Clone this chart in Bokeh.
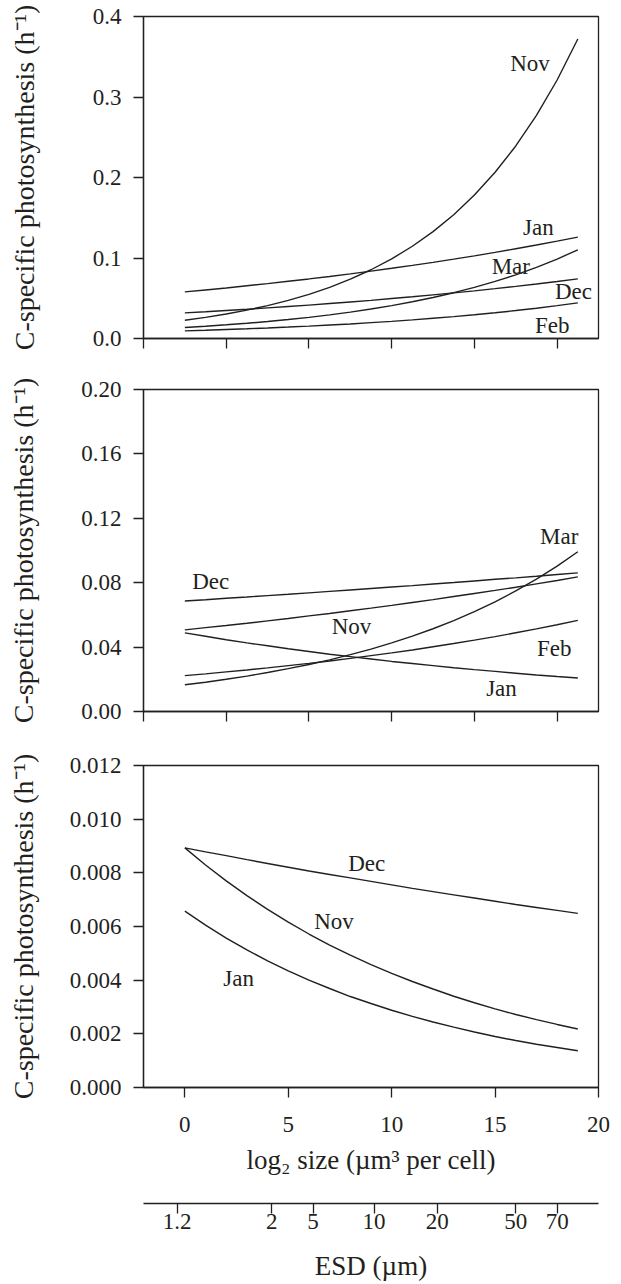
from bokeh.plotting import figure
from bokeh.models import Range1d, FixedTicker
from bokeh.layouts import column
from bokeh.embed import file_html
from bokeh.resources import INLINE
from bokeh.core.properties import value

# ---------------- data ----------------
log2_size = [0, 1, 2, 3, 4, 5, 6, 7, 8, 9, 10, 11, 12, 13, 14, 15, 16, 17, 18, 19]

# panel A
a_nov = [0.0227, 0.0263, 0.0305, 0.0353, 0.0409, 0.0474, 0.0549, 0.0636, 0.0737, 0.0854,
         0.0989, 0.1146, 0.1328, 0.1538, 0.1782, 0.2065, 0.2392, 0.2772, 0.3211, 0.3721]
a_jan = [0.0579, 0.0603, 0.0628, 0.0655, 0.0682, 0.0711, 0.0740, 0.0771, 0.0803, 0.0837,
         0.0872, 0.0908, 0.0946, 0.0986, 0.1027, 0.1070, 0.1115, 0.1161, 0.1210, 0.1260]
a_mar = [0.0136, 0.0152, 0.0170, 0.0189, 0.0211, 0.0236, 0.0263, 0.0294, 0.0328, 0.0366,
         0.0409, 0.0456, 0.0509, 0.0569, 0.0635, 0.0709, 0.0791, 0.0884, 0.0987, 0.1102]
a_dec = [0.0318, 0.0332, 0.0348, 0.0363, 0.0380, 0.0397, 0.0415, 0.0434, 0.0454, 0.0474,
         0.0496, 0.0518, 0.0542, 0.0567, 0.0592, 0.0619, 0.0647, 0.0677, 0.0708, 0.0740]
a_feb = [0.0095, 0.0103, 0.0112, 0.0121, 0.0131, 0.0142, 0.0154, 0.0167, 0.0181, 0.0197,
         0.0213, 0.0231, 0.0251, 0.0272, 0.0295, 0.0320, 0.0347, 0.0376, 0.0408, 0.0442]

# panel B
b_dec = [0.0686, 0.0694, 0.0703, 0.0711, 0.0720, 0.0728, 0.0737, 0.0746, 0.0755, 0.0764,
         0.0773, 0.0782, 0.0792, 0.0801, 0.0811, 0.0821, 0.0830, 0.0840, 0.0851, 0.0861]
b_nov = [0.0507, 0.0521, 0.0534, 0.0548, 0.0563, 0.0578, 0.0594, 0.0609, 0.0626, 0.0642,
         0.0659, 0.0677, 0.0695, 0.0714, 0.0733, 0.0752, 0.0772, 0.0793, 0.0814, 0.0836]
b_jan = [0.0488, 0.0467, 0.0446, 0.0426, 0.0408, 0.0390, 0.0373, 0.0356, 0.0341, 0.0326,
         0.0311, 0.0298, 0.0285, 0.0272, 0.0260, 0.0249, 0.0238, 0.0227, 0.0217, 0.0208]
b_feb = [0.0223, 0.0234, 0.0246, 0.0258, 0.0271, 0.0285, 0.0299, 0.0314, 0.0330, 0.0347,
         0.0364, 0.0382, 0.0402, 0.0422, 0.0443, 0.0465, 0.0489, 0.0513, 0.0539, 0.0566]
b_mar = [0.0166, 0.0182, 0.0200, 0.0220, 0.0242, 0.0266, 0.0292, 0.0321, 0.0353, 0.0387,
         0.0426, 0.0468, 0.0514, 0.0564, 0.0620, 0.0681, 0.0749, 0.0822, 0.0903, 0.0992]

# panel C
c_dec = [0.00893, 0.00878, 0.00864, 0.00849, 0.00835, 0.00821, 0.00807, 0.00794, 0.00781, 0.00768,
         0.00755, 0.00742, 0.00730, 0.00718, 0.00706, 0.00694, 0.00682, 0.00671, 0.00660, 0.00649]
c_nov = [0.00893, 0.00829, 0.00770, 0.00715, 0.00664, 0.00616, 0.00572, 0.00531, 0.00493, 0.00458,
         0.00425, 0.00395, 0.00367, 0.00340, 0.00316, 0.00293, 0.00272, 0.00253, 0.00235, 0.00218]
c_jan = [0.00657, 0.00605, 0.00557, 0.00513, 0.00472, 0.00435, 0.00400, 0.00369, 0.00339, 0.00313,
         0.00288, 0.00265, 0.00244, 0.00225, 0.00207, 0.00190, 0.00175, 0.00161, 0.00149, 0.00137]

# axes ticks / labels
a_yticks = [0.0, 0.1, 0.2, 0.3, 0.4]
a_ylabels = ["0.0", "0.1", "0.2", "0.3", "0.4"]
b_yticks = [0.0, 0.04, 0.08, 0.12, 0.16, 0.20]
b_ylabels = ["0.00", "0.04", "0.08", "0.12", "0.16", "0.20"]
c_yticks = [0.0, 0.002, 0.004, 0.006, 0.008, 0.010, 0.012]
c_ylabels = ["0.000", "0.002", "0.004", "0.006", "0.008", "0.010", "0.012"]
upper_xticks = [-2, 2, 6, 10, 14, 18]
lower_xticks = [0, 5, 10, 15, 20]
lower_xlabels = ["0", "5", "10", "15", "20"]
esd_tick_pos = [-0.38, 4.2, 6.2, 9.15, 12.2, 16.0, 18.0]
esd_labels = ["1.2", "2", "5", "10", "20", "50", "70"]

# month label annotations (centres)
a_lab = ["Nov", "Jan", "Mar", "Dec", "Feb"]
a_lab_x = [16.69, 17.09, 15.76, 18.79, 17.76]
a_lab_y = [0.3420, 0.1373, 0.0890, 0.0580, 0.0165]
b_lab = ["Mar", "Dec", "Nov", "Feb", "Jan"]
b_lab_x = [18.1, 1.25, 8.06, 17.86, 15.31]
b_lab_y = [0.1088, 0.0805, 0.0525, 0.0390, 0.0140]
c_lab = ["Dec", "Nov", "Jan"]
c_lab_x = [8.79, 7.21, 2.60]
c_lab_y = [0.00836, 0.00619, 0.00406]

# ---------------- styling ----------------
INK = "#231F20"
FONT = "Liberation Serif"
TICK_PX = "23px"
LABEL_PX = "27px"
YLABEL_PX = "28px"
YLABEL = "C-specific photosynthesis (h\u207b\u00b9)"

x_range = Range1d(-2, 20)


def style_axis(ax):
    ax.axis_line_color = INK
    ax.axis_line_width = 1.3
    ax.major_tick_line_color = INK
    ax.major_tick_line_width = 1.3
    ax.major_tick_in = 0
    ax.major_tick_out = 10
    ax.minor_tick_line_color = None
    ax.major_label_text_font = FONT
    ax.major_label_text_font_size = TICK_PX
    ax.major_label_text_color = INK
    ax.axis_label_text_font = FONT
    ax.axis_label_text_font_size = LABEL_PX
    ax.axis_label_text_font_style = "normal"
    ax.axis_label_text_color = INK


def make_panel(yr, yticks, ylabels, xticks, xlabels, ylab_standoff, top, bottom):
    p = figure(frame_width=455, frame_height=322, x_range=x_range, y_range=Range1d(*yr),
               output_backend="svg", toolbar_location=None,
               min_border_left=143, min_border_right=14,
               min_border_top=top, min_border_bottom=bottom,
               outline_line_color=INK, outline_line_width=1.3,
               background_fill_color="white", border_fill_color="white")
    p.grid.visible = False
    style_axis(p.xaxis[0])
    style_axis(p.yaxis[0])
    p.yaxis.ticker = FixedTicker(ticks=yticks)
    p.yaxis.major_label_overrides = {t: s for t, s in zip(yticks, ylabels)}
    p.yaxis.major_label_standoff = 12
    p.yaxis.axis_label = YLABEL
    p.yaxis.axis_label_text_font_size = YLABEL_PX
    p.yaxis.axis_label_standoff = ylab_standoff
    p.xaxis.ticker = FixedTicker(ticks=xticks)
    if xlabels is None:
        p.xaxis.major_label_overrides = {t: "" for t in xticks}
        p.xaxis.major_label_standoff = 0
    else:
        p.xaxis.major_label_overrides = {t: s for t, s in zip(xticks, xlabels)}
        p.xaxis.major_label_standoff = 19
    return p


def add_lines(p, series):
    for ys in series:
        p.line(log2_size, ys, line_color=INK, line_width=1.4)


def add_labels(p, txt, xs, ys):
    p.text(x=xs, y=ys, text=txt, text_font=value(FONT), text_font_size=TICK_PX,
           text_color=INK, text_align="center", text_baseline="middle")


pa = make_panel((0, 0.4), a_yticks, a_ylabels, upper_xticks, None, 50, 16, 31)
add_lines(pa, [a_nov, a_jan, a_mar, a_dec, a_feb])
add_labels(pa, a_lab, a_lab_x, a_lab_y)

pb = make_panel((0, 0.2), b_yticks, b_ylabels, upper_xticks, None, 39, 20, 34)
add_lines(pb, [b_dec, b_nov, b_jan, b_feb, b_mar])
add_labels(pb, b_lab, b_lab_x, b_lab_y)

pc = make_panel((0, 0.012), c_yticks, c_ylabels, lower_xticks, lower_xlabels, 28, 20, 94)
add_lines(pc, [c_dec, c_nov, c_jan])
add_labels(pc, c_lab, c_lab_x, c_lab_y)
pc.xaxis.axis_label = "log\u2082 size (\u00b5m\u00b3 per cell)"
pc.xaxis.axis_label_standoff = 10

# secondary ESD axis
pd = figure(frame_width=455, frame_height=2, x_range=x_range, y_range=Range1d(0, 1),
            output_backend="svg", toolbar_location=None, y_axis_location=None,
            min_border_left=143, min_border_right=14, min_border_top=20, min_border_bottom=80,
            outline_line_color=None, background_fill_color="white", border_fill_color="white")
pd.grid.visible = False
ax = pd.xaxis[0]
style_axis(ax)
ax.ticker = FixedTicker(ticks=esd_tick_pos)
ax.major_label_overrides = {t: s for t, s in zip(esd_tick_pos, esd_labels)}
ax.major_label_standoff = 0
ax.axis_label = "ESD (\u00b5m)"
ax.axis_label_standoff = 19

layout = column(pa, pb, pc, pd, spacing=0)
open("out.html", "w").write(file_html(layout, INLINE))
